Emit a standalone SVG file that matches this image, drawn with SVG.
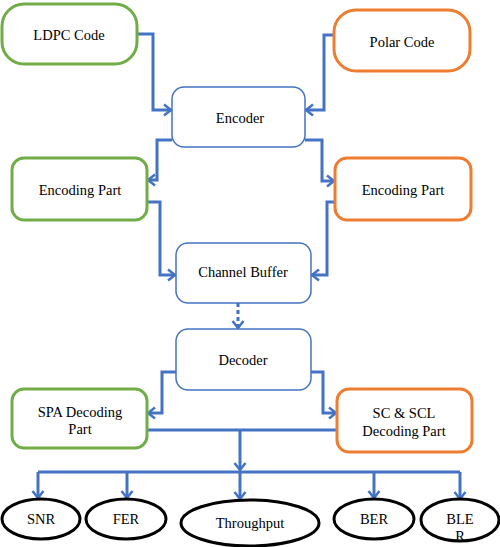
<svg xmlns="http://www.w3.org/2000/svg" width="500" height="547" viewBox="0 0 500 547">
<defs>
<style>
.g{fill:#fff;stroke:#70ad47;stroke-width:3}
.o{fill:#fff;stroke:#ed7d31;stroke-width:3}
.b{fill:#fff;stroke:#4472c4;stroke-width:1.5}
.e{fill:#fff;stroke:#000;stroke-width:3}
.t{font-size:14.5px;fill:#000;text-anchor:middle}
.c{fill:none;stroke:#4472c4;stroke-width:3}
</style>
<marker id="a" markerUnits="userSpaceOnUse" markerWidth="14" markerHeight="14" refX="10" refY="7" orient="auto">
<path d="M3,1.5 L10,7 L3,12.5" fill="none" stroke="#4472c4" stroke-width="2.5"/>
</marker>
</defs>
<g id="connectors">
<path class="c" d="M137,34 H153 V110 H171" marker-end="url(#a)"/>
<path class="c" d="M334,35 H324 V110 H306" marker-end="url(#a)"/>
<path class="c" d="M172,140 H157 V180 H148" marker-end="url(#a)"/>
<path class="c" d="M305,140 H322 V181 H334" marker-end="url(#a)"/>
<path class="c" d="M147,202 H160 V275 H175" marker-end="url(#a)"/>
<path class="c" d="M335,202 H327 V275 H312" marker-end="url(#a)"/>
<path class="c" d="M238,303 V328" stroke-dasharray="4,3" marker-end="url(#a)"/>
<path class="c" d="M176,372 H162 V413 H148" marker-end="url(#a)"/>
<path class="c" d="M311,372 H323 V413 H336" marker-end="url(#a)"/>
<path class="c" d="M147,430 H337"/>
<path class="c" d="M240,430 V470" marker-end="url(#a)"/>
<path class="c" d="M38,472 H460"/>
<path class="c" d="M240,472 V499" marker-end="url(#a)"/>
<path class="c" d="M38,472 V498" marker-end="url(#a)"/>
<path class="c" d="M127,472 V498" marker-end="url(#a)"/>
<path class="c" d="M374,472 V498" marker-end="url(#a)"/>
<path class="c" d="M460,472 V499" marker-end="url(#a)"/>
</g>
<g font-family="'Liberation Serif', 'Times New Roman', serif">
<g id="ldpc"><rect class="g" x="2" y="4" width="135" height="60" rx="22"/><text class="t" x="69" y="40">LDPC Code</text></g>
<g id="polar"><rect class="o" x="334" y="10" width="136" height="61" rx="22"/><text class="t" x="402" y="47">Polar Code</text></g>
<g id="encoder"><rect class="b" x="172" y="87" width="133" height="60" rx="12"/><text class="t" x="240" y="123">Encoder</text></g>
<g id="enc-left"><rect class="g" x="12" y="158" width="135" height="62" rx="12"/><text class="t" x="80" y="195">Encoding Part</text></g>
<g id="enc-right"><rect class="o" x="335" y="158" width="136" height="62" rx="12"/><text class="t" x="403" y="195">Encoding Part</text></g>
<g id="buffer"><rect class="b" x="176" y="243" width="135" height="60" rx="12"/><text class="t" x="243" y="277">Channel Buffer</text></g>
<g id="decoder"><rect class="b" x="176" y="329" width="135" height="61" rx="12"/><text class="t" x="243" y="365">Decoder</text></g>
<g id="spa"><rect class="g" x="12" y="389" width="135" height="59" rx="12"/><text class="t" x="80" y="417">SPA Decoding</text><text class="t" x="80" y="434">Part</text></g>
<g id="sc"><rect class="o" x="337" y="389" width="135" height="63" rx="12"/><text class="t" x="404" y="418">SC &amp; SCL</text><text class="t" x="404" y="436">Decoding Part</text></g>
<g id="snr"><ellipse class="e" cx="41" cy="519" rx="39" ry="20"/><text class="t" x="41" y="524">SNR</text></g>
<g id="fer"><ellipse class="e" cx="126" cy="519" rx="40" ry="20"/><text class="t" x="126" y="524">FER</text></g>
<g id="thr"><ellipse class="e" cx="250" cy="523" rx="69" ry="23"/><text class="t" x="250" y="528">Throughput</text></g>
<g id="ber"><ellipse class="e" cx="374" cy="519" rx="40" ry="20"/><text class="t" x="374" y="524">BER</text></g>
<g id="bler"><ellipse class="e" cx="460" cy="520" rx="39" ry="21"/><text class="t" x="460" y="524">BLE</text><text class="t" x="460" y="541">R</text></g>
</g>
</svg>
